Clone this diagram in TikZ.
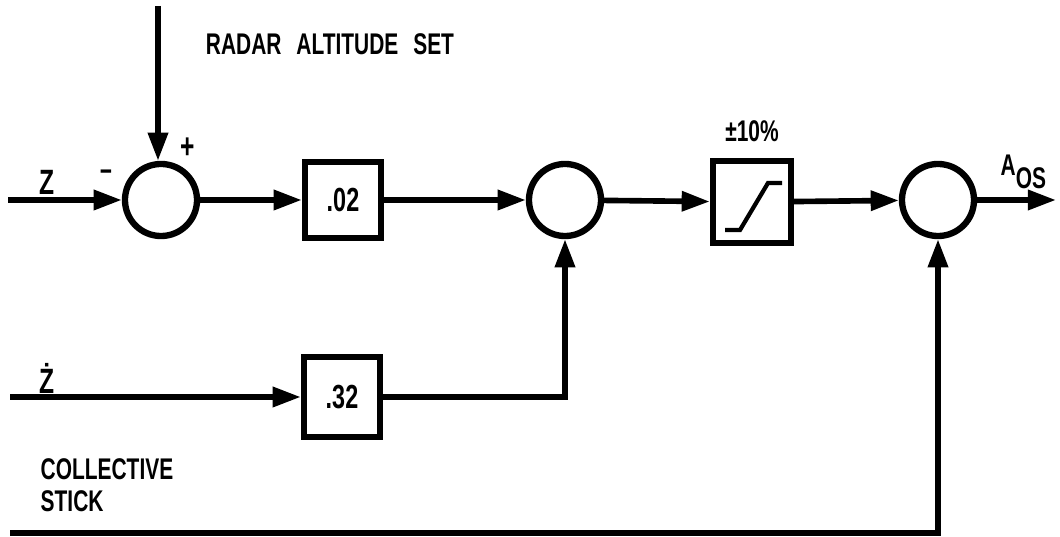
\documentclass[tikz,border=0pt]{standalone}
\usepackage{fontspec}
\setmainfont{Liberation Sans}[FakeStretch=0.7]
\usetikzlibrary{positioning,arrows.meta}

\begin{document}
\begin{tikzpicture}[x=0.01cm, y=-0.01cm,
   sumnode/.style={draw, circle, line width=1.8pt, minimum size=0.68cm, inner sep=0pt},
   gainbox/.style={draw, line width=1.8pt, minimum size=0.76cm, inner sep=0pt,
                   font=\bfseries\fontsize{9.5}{11}\selectfont},
   lbl/.style={font=\bfseries\fontsize{8.5}{9}\selectfont, align=left, inner sep=0pt},
   sig/.style={line width=1.6pt, -{Triangle[length=8pt,width=5.5pt]}},
   wire/.style={line width=1.6pt}]
  \useasboundingbox (0,0) rectangle (1060,537);
  % forward path
  \node[sumnode, minimum size=0.72cm] (sumz) at (161,200) {};
  \node[gainbox] (gainz) at (343,200) {.02};
  \node[sumnode, minimum size=0.72cm] (sumr) at (565,200) {};
  \node[gainbox, minimum width=0.78cm, minimum height=0.82cm] (lim) at (752,202) {};
  \node[sumnode, minimum size=0.72cm] (sumout) at (938,200) {};
  \node[gainbox, minimum height=0.8cm] (gainzd) at (342,397) {.32};
  % free ends
  \coordinate (zin) at (8,200);
  \coordinate (altin) at (158,6);
  \coordinate (aout) at (1056,200);
  \coordinate (zdin) at (10,397);
  \coordinate (stickin) at (10,533);
  % limiter characteristic
  \draw[wire, line width=1.2pt] ([shift={(-27,28)}]lim.center) -- ++(15,0)
    -- ++(28,-47) -- ++(14,0);
  % connectors
  \draw[sig] (zin) -- (sumz);
  \draw[sig] (altin) -- (altin |- sumz.north);
  \draw[sig] (sumz) -- (gainz);
  \draw[sig] (gainz) -- (sumr);
  \draw[sig] (sumr) -- (lim);
  \draw[sig] (lim) -- (sumout);
  \draw[sig] (sumout) -- (aout);
  \draw[sig] (zdin) -- (gainzd);
  \draw[sig] (gainzd) -| (sumr);
  \draw[sig] (stickin) -| (sumout);
  % labels
  \node[lbl, font=\bfseries\fontsize{10}{11}\selectfont] at (47,182) {Z};
  \node[lbl, font=\bfseries\fontsize{10}{11}\selectfont] at (47,378) {\.Z};
  \node[lbl] at (106,176) {−};
  \node[lbl, font=\bfseries\fontsize{10}{11}\selectfont] at (188,148) {+};
  \node[lbl] at (330,44) {RADAR\enspace ALTITUDE\enspace SET};
  \node[lbl, above=1.5mm of lim.north] {±10\%};
  \node[lbl, anchor=west] at (1000,172) {A\raisebox{-3.5pt}{OS}};
  \node[lbl, anchor=west] at (40,485) {COLLECTIVE\\STICK};
\end{tikzpicture}
\end{document}
